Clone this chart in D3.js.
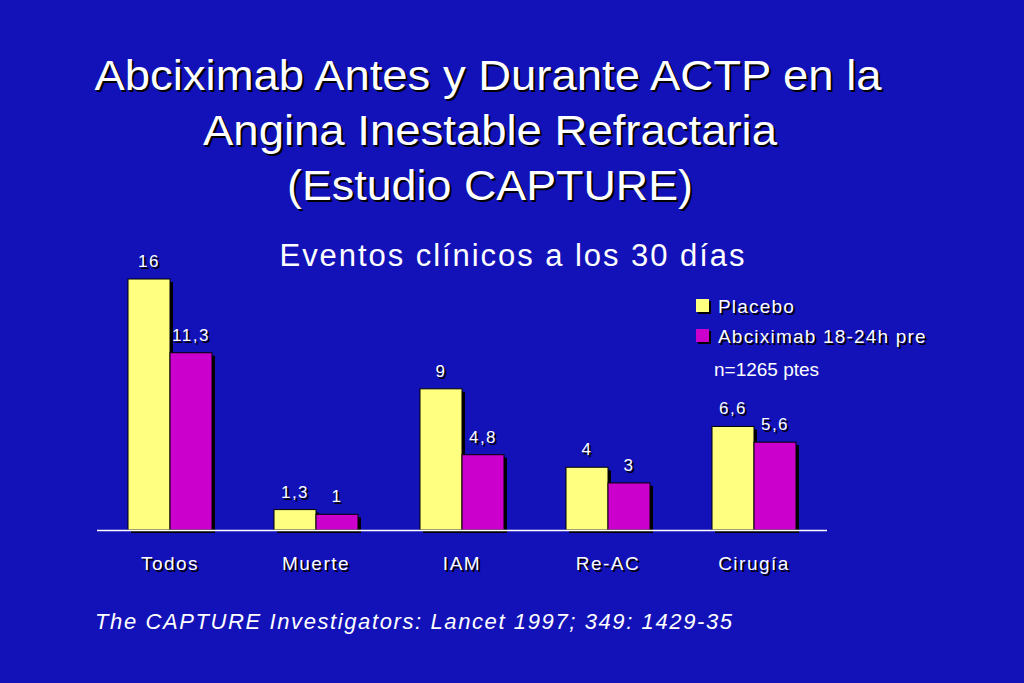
<!DOCTYPE html>
<html><head><meta charset="utf-8">
<script src="https://cdn.jsdelivr.net/npm/d3@7"></script>
<style>body{margin:0;background:#1212b8;}svg{display:block;}</style>
</head><body>
<script>
var categories = ["Todos", "Muerte", "IAM", "Re-AC", "Cirugía"];
var placebo = [16, 1.3, 9, 4, 6.6];
var abcix = [11.3, 1, 4.8, 3, 5.6];
var seriesNames = ["Placebo", "Abciximab 18-24h pre"];
var seriesColors = ["#ffff80", "#cc00cc"];

var svg = d3.select("body").append("svg").attr("width", 1024).attr("height", 683);
svg.append("rect").attr("width", 1024).attr("height", 683).attr("fill", "#1212b8");

// text with drop shadow
function shadowText(x, y, t, size, anchor, spacing, len) {
	var g = svg.append("g");
	[[2, 2, "#000"], [0, 0, "#fff"]].forEach(function(s) {
		var el = g.append("text").attr("x", x + s[0]).attr("y", y + s[1]).attr("fill", s[2])
			.attr("font-size", size).attr("text-anchor", anchor || "middle")
			.attr("letter-spacing", spacing || 0)
			.attr("font-family", "Liberation Sans, Arial, sans-serif").text(t);
		if (len) el.attr("textLength", len).attr("lengthAdjust", "spacingAndGlyphs");
	});
}

shadowText(488, 90, "Abciximab Antes y Durante ACTP en la", 43, "middle", 0, 787);
shadowText(490, 145, "Angina Inestable Refractaria", 43, "middle", 0, 574);
shadowText(490, 200, "(Estudio CAPTURE)", 43, "middle", 0, 406);
svg.append("text").attr("x", 512).attr("y", 266).attr("text-anchor", "middle").attr("fill", "#fff")
	.attr("font-size", 31).attr("font-family", "Liberation Sans, Arial, sans-serif")
	.attr("textLength", 465).text("Eventos clínicos a los 30 días");

var x0 = d3.scaleBand().domain(categories).range([97, 827]);
var x1 = d3.scaleBand().domain([0, 1]).range([-42, 42]);
var y = d3.scaleLinear().domain([0, 16]).range([530, 279]);

categories.forEach(function(c, i) {
	var cx = x0(c) + x0.bandwidth() / 2;
	[placebo[i], abcix[i]].forEach(function(v, j) {
		var bx = cx + x1(j);
		svg.append("rect").attr("x", bx + 3).attr("y", y(v) + 3).attr("width", 42).attr("height", y(0) - y(v)).attr("fill", "#000");
		svg.append("rect").attr("x", bx).attr("y", y(v)).attr("width", 42).attr("height", y(0) - y(v))
			.attr("fill", seriesColors[j]).attr("stroke", "#000").attr("stroke-width", 1);
		shadowText(bx + 21, y(v) - 12, String(v).replace(".", ","), 17, "middle", 1.5);
	});
	shadowText(cx, 570, c, 19, "middle", 1.5);
});

svg.append("line").attr("x1", 97).attr("x2", 827).attr("y1", 530.5).attr("y2", 530.5).attr("stroke", "#fff").attr("stroke-width", 1.5);

seriesNames.forEach(function(n, j) {
	var ly = 306 + j * 30;
	svg.append("rect").attr("x", 698).attr("y", ly - 5).attr("width", 13).attr("height", 13).attr("fill", "#000");
	svg.append("rect").attr("x", 696).attr("y", ly - 7).attr("width", 13).attr("height", 13).attr("fill", seriesColors[j]);
	shadowText(718, ly + 7, n, 19, "start", 1.2);
});
svg.append("text").attr("x", 714).attr("y", 376).attr("fill", "#fff").attr("font-size", 19)
	.attr("font-family", "Liberation Sans, Arial, sans-serif").text("n=1265 ptes");

svg.append("text").attr("x", 95).attr("y", 629).attr("fill", "#fff").attr("font-size", 22).attr("font-style", "italic")
	.attr("font-family", "Liberation Sans, Arial, sans-serif").attr("textLength", 637).text("The CAPTURE Investigators: Lancet 1997; 349: 1429-35");
</script>
</body></html>
